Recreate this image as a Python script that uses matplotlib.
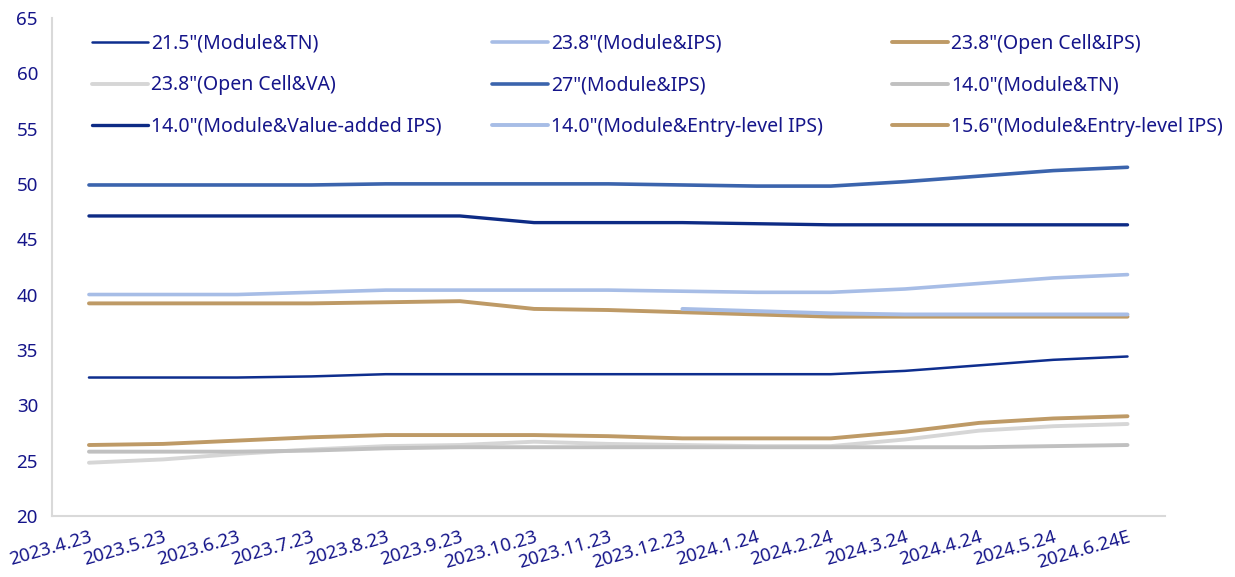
import numpy as np
import matplotlib.pyplot as plt

plt.rcParams['font.family'] = ['Noto Sans', 'DejaVu Sans']

# price trend of monitor / notebook panels (USD)
dates = ["2023.4.23", "2023.5.23", "2023.6.23", "2023.7.23", "2023.8.23",
         "2023.9.23", "2023.10.23", "2023.11.23", "2023.12.23", "2024.1.24",
         "2024.2.24", "2024.3.24", "2024.4.24", "2024.5.24", "2024.6.24E"]

tn_215 = [32.5, 32.5, 32.5, 32.6, 32.8, 32.8, 32.8, 32.8, 32.8, 32.8, 32.8, 33.1, 33.6, 34.1, 34.4]
ips_238 = [40.0, 40.0, 40.0, 40.2, 40.4, 40.4, 40.4, 40.4, 40.3, 40.2, 40.2, 40.5, 41.0, 41.5, 41.8]
oc_ips_238 = [39.2, 39.2, 39.2, 39.2, 39.3, 39.4, 38.7, 38.6, 38.4, 38.2, 38.0, 38.0, 38.0, 38.0, 38.0]
oc_va_238 = [24.8, 25.1, 25.6, 26.0, 26.3, 26.4, 26.7, 26.5, 26.4, 26.3, 26.3, 26.9, 27.7, 28.1, 28.3]
ips_27 = [49.9, 49.9, 49.9, 49.9, 50.0, 50.0, 50.0, 50.0, 49.9, 49.8, 49.8, 50.2, 50.7, 51.2, 51.5]
tn_140 = [25.8, 25.8, 25.8, 25.9, 26.1, 26.2, 26.2, 26.2, 26.2, 26.2, 26.2, 26.2, 26.2, 26.3, 26.4]
va_ips_140 = [47.1, 47.1, 47.1, 47.1, 47.1, 47.1, 46.5, 46.5, 46.5, 46.4, 46.3, 46.3, 46.3, 46.3, 46.3]
entry_ips_140 = [np.nan] * 8 + [38.7, 38.5, 38.3, 38.2, 38.2, 38.2, 38.2]
entry_ips_156 = [26.4, 26.5, 26.8, 27.1, 27.3, 27.3, 27.3, 27.2, 27.0, 27.0, 27.0, 27.6, 28.4, 28.8, 29.0]

series = [
    ('21.5"(Module&TN)', tn_215, '#0E2E8E', 1.8),
    ('23.8"(Module&IPS)', ips_238, '#A7BDE6', 2.6),
    ('23.8"(Open Cell&IPS)', oc_ips_238, '#BE9A66', 2.8),
    ('23.8"(Open Cell&VA)', oc_va_238, '#D6D6D6', 2.8),
    ('27"(Module&IPS)', ips_27, '#3B64AD', 2.6),
    ('14.0"(Module&TN)', tn_140, '#C0C0C0', 2.8),
    ('14.0"(Module&Value-added IPS)', va_ips_140, '#0D2B85', 2.4),
    ('14.0"(Module&Entry-level IPS)', entry_ips_140, '#A7BDE6', 2.8),
    ('15.6"(Module&Entry-level IPS)', entry_ips_156, '#BE9A66', 2.8),
]

txt = '#15158A'
fig = plt.figure(figsize=(12.35, 5.77), dpi=100)
ax = fig.add_axes([0.042, 0.106, 0.901, 0.863])

x = np.arange(len(dates))
handles = []
for name, vals, col, lw in series:
    h, = ax.plot(x, vals, color=col, lw=lw, label=name, solid_capstyle='round')
    handles.append(h)

ax.set_xlim(-0.5, len(dates) - 0.5)
ax.set_ylim(20, 65)
ax.set_yticks(np.arange(20, 66, 5))
ax.set_xticks(x)
ax.set_xticklabels(dates, rotation=16, ha='right', va='top', rotation_mode='anchor')
ax.tick_params(axis='both', length=0, labelsize=13.5, colors=txt)
ax.tick_params(axis='y', pad=10)
ax.tick_params(axis='x', pad=9)

for s in ['top', 'right']:
    ax.spines[s].set_visible(False)
for s in ['left', 'bottom']:
    ax.spines[s].set_color('#D9D9D9')
    ax.spines[s].set_linewidth(1.5)

# three legend columns, one legend each so the columns sit at fixed places
col_x = [92, 492, 892]
for c in range(3):
    idx = [c, c + 3, c + 6]
    leg = fig.legend([handles[i] for i in idx], [series[i][0] for i in idx],
                     loc='upper left', bbox_to_anchor=(col_x[c] / 1235, 1 - 34 / 577),
                     bbox_transform=fig.transFigure, frameon=False, fontsize=14,
                     handlelength=2.9, handletextpad=0.15, labelspacing=1.1,
                     borderpad=0, borderaxespad=0)
    for t in leg.get_texts():
        t.set_color(txt)

plt.savefig('out.png', dpi=100)
